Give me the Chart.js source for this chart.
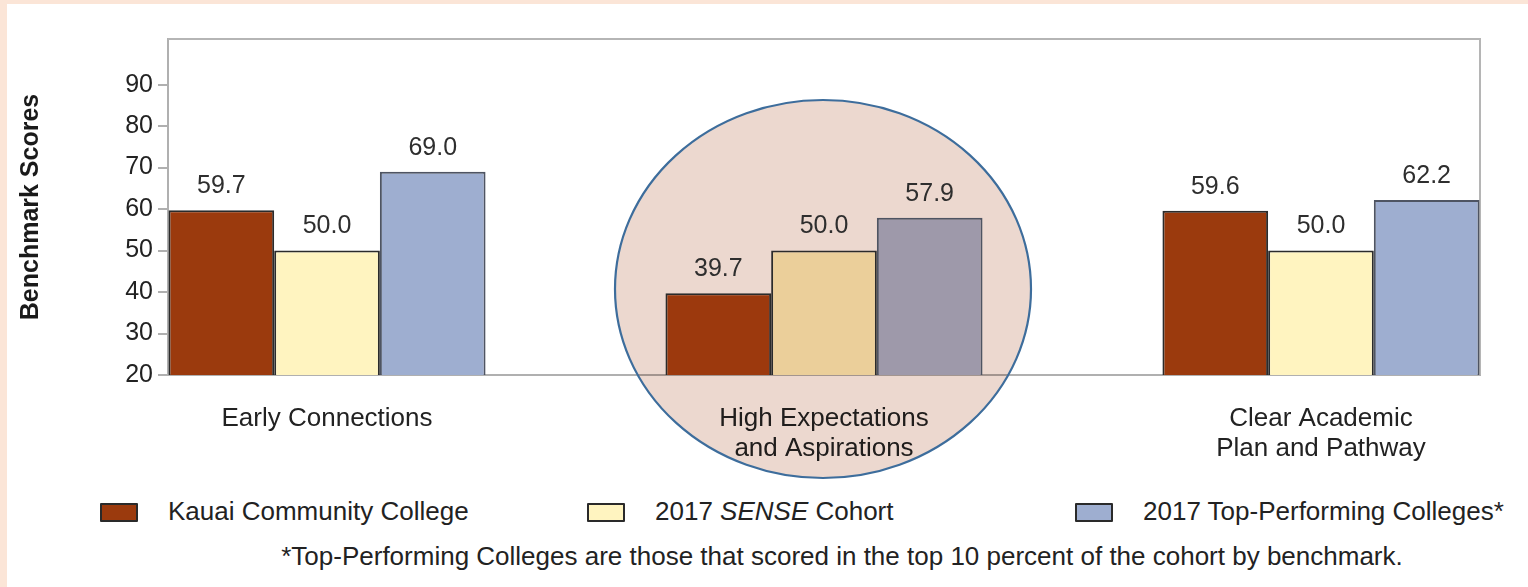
<!DOCTYPE html>
<html>
<head>
<meta charset="utf-8">
<script src="https://cdn.jsdelivr.net/npm/chart.js@4"></script>
<style>
  html, body { margin: 0; padding: 0; }
  body { width: 1528px; height: 587px; background: #fbe5d7; position: relative; overflow: hidden;
         font-family: "Liberation Sans", Arial, sans-serif; color: #222; }
  #card { position: absolute; left: 7px; top: 4px; width: 1521px; height: 583px; background: #fff; }
  #chart { position: absolute; left: 0; top: 0; }
  .item { position: absolute; top: 496px; font-size: 26px; line-height: 30px; white-space: nowrap; }
  .box { position: absolute; top: 503px; width: 34px; height: 15px; border: 2px solid #2a2a2a; border-radius: 1px; }
  #note { position: absolute; top: 541px; left: 0; width: 1684px; text-align: center; font-size: 26px; line-height: 30px; white-space: nowrap; }
</style>
</head>
<body>
<div id="card">
  <canvas id="chart" width="1521" height="476"></canvas>
</div>
<div id="legend"></div>
<div id="note">*Top-Performing Colleges are those that scored in the top 10 percent of the cohort by benchmark.</div>
<script>
// benchmarks
const categories = [
  ['Early Connections'],
  ['High Expectations', 'and Aspirations'],
  ['Clear Academic', 'Plan and Pathway']
];
const kauai = [59.7, 39.7, 59.6];
const sense = [50.0, 50.0, 50.0];
const topPerforming = [69.0, 57.9, 62.2];
const seriesNames = ['Kauai Community College', '2017 SENSE Cohort', '2017 Top-Performing Colleges*'];
const yTicks = [20, 30, 40, 50, 60, 70, 80, 90];

// colours: normal, and the highlighted (circled) group
const kauaiColor = ['#9b3a0d', '#9c390d', '#9b3a0d'];
const senseColor = ['#fff4c0', '#ebcf9a', '#fff4c0'];
const topColor = ['#9eaed0', '#9e99aa', '#9eaed0'];
const highlighted = 1;

const font = '"Liberation Sans", Arial, sans-serif';

const toPoints = arr => arr.map((v, i) => ({ x: i, y: v }));

const framePlugin = {
  id: 'frame',
  beforeDatasetsDraw(chart) {
    const { ctx, chartArea: a, scales } = chart;
    ctx.save();
    ctx.strokeStyle = '#b5b5b5';
    ctx.lineWidth = 2;
    ctx.beginPath();
    ctx.moveTo(a.left, a.top);
    ctx.lineTo(a.right, a.top);
    ctx.lineTo(a.right, a.bottom);
    ctx.stroke();

    // circle round the highlighted benchmark
    const cx = scales.x.getPixelForValue(highlighted) - 1;
    const cy = 285;
    ctx.globalCompositeOperation = 'multiply';
    ctx.fillStyle = 'rgb(236,216,207)';
    ctx.beginPath();
    ctx.ellipse(cx, cy, 208, 189, 0, 0, Math.PI * 2);
    ctx.fill();
    ctx.globalCompositeOperation = 'source-over';
    ctx.strokeStyle = '#3d6d9c';
    ctx.lineWidth = 2.2;
    ctx.stroke();
    ctx.restore();
  }
};

const labelPlugin = {
  id: 'values',
  afterDatasetsDraw(chart) {
    const { ctx } = chart;
    ctx.save();
    ctx.font = '25px ' + font;
    ctx.fillStyle = '#2e2e2e';
    ctx.textAlign = 'center';
    ctx.textBaseline = 'middle';
    chart.data.datasets.forEach((ds, di) => {
      chart.getDatasetMeta(di).data.forEach((bar, i) => {
        ctx.fillText(ds.data[i].y.toFixed(1), bar.x, bar.y - 24);
      });
    });
    ctx.restore();
  }
};

const border = { borderColor: '#2b2b2b', borderWidth: 2 };

new Chart(document.getElementById('chart'), {
  type: 'bar',
  data: {
    datasets: [
      { label: seriesNames[0], data: toPoints(kauai), backgroundColor: kauaiColor, ...border },
      { label: seriesNames[1], data: toPoints(sense), backgroundColor: senseColor, ...border },
      { label: seriesNames[2], data: toPoints(topPerforming), backgroundColor: topColor, borderColor: '#4e5462', borderWidth: 2 }
    ]
  },
  options: {
    responsive: false,
    animation: false,
    events: [],
    layout: { padding: { left: 0, top: 35, right: 48, bottom: 0 } },
    categoryPercentage: 0.638,
    barPercentage: 1,
    plugins: { legend: { display: false }, tooltip: { enabled: false } },
    scales: {
      x: {
        type: 'linear',
        min: -0.32,
        max: 2.32,
        offset: false,
        afterBuildTicks: s => { s.ticks = [0, 1, 2].map(v => ({ value: v })); },
        afterFit: s => { s.height = 105; },
        grid: { offset: false, drawOnChartArea: false, drawTicks: false, color: 'rgba(0,0,0,0)' },
        border: { display: true, color: '#b0b0b0', width: 2 },
        ticks: {
          padding: 29,
          maxRotation: 0,
          autoSkip: false,
          color: '#222',
          font: { family: font, size: 26, lineHeight: 1.15 },
          callback: v => categories[v]
        }
      },
      y: {
        min: 20,
        max: 101,
        afterBuildTicks: s => { s.ticks = yTicks.map(v => ({ value: v })); },
        afterFit: s => { s.width = 161; },
        grid: { drawOnChartArea: false, drawTicks: true, tickLength: 10, color: '#b0b0b0', lineWidth: 2 },
        border: { display: true, color: '#b0b0b0', width: 2 },
        ticks: { padding: 5, color: '#222', font: { family: font, size: 25 } },
        title: {
          display: true,
          text: 'Benchmark Scores',
          color: '#1a1a1a',
          padding: { top: 9, bottom: 0 },
          font: { family: font, size: 25, weight: 'bold' }
        }
      }
    }
  },
  plugins: [framePlugin, labelPlugin]
});

// legend
const legendPos = [[100, 168], [587, 655], [1075, 1143]];
const legendFill = [kauaiColor[0], senseColor[0], topColor[0]];
const legend = document.getElementById('legend');
seriesNames.forEach((name, i) => {
  const box = document.createElement('div');
  box.className = 'box';
  box.style.left = legendPos[i][0] + 'px';
  box.style.background = legendFill[i];
  legend.appendChild(box);
  const txt = document.createElement('div');
  txt.className = 'item';
  txt.style.left = legendPos[i][1] + 'px';
  txt.innerHTML = name.replace('SENSE', '<i>SENSE</i>');
  legend.appendChild(txt);
});
</script>
</body>
</html>
